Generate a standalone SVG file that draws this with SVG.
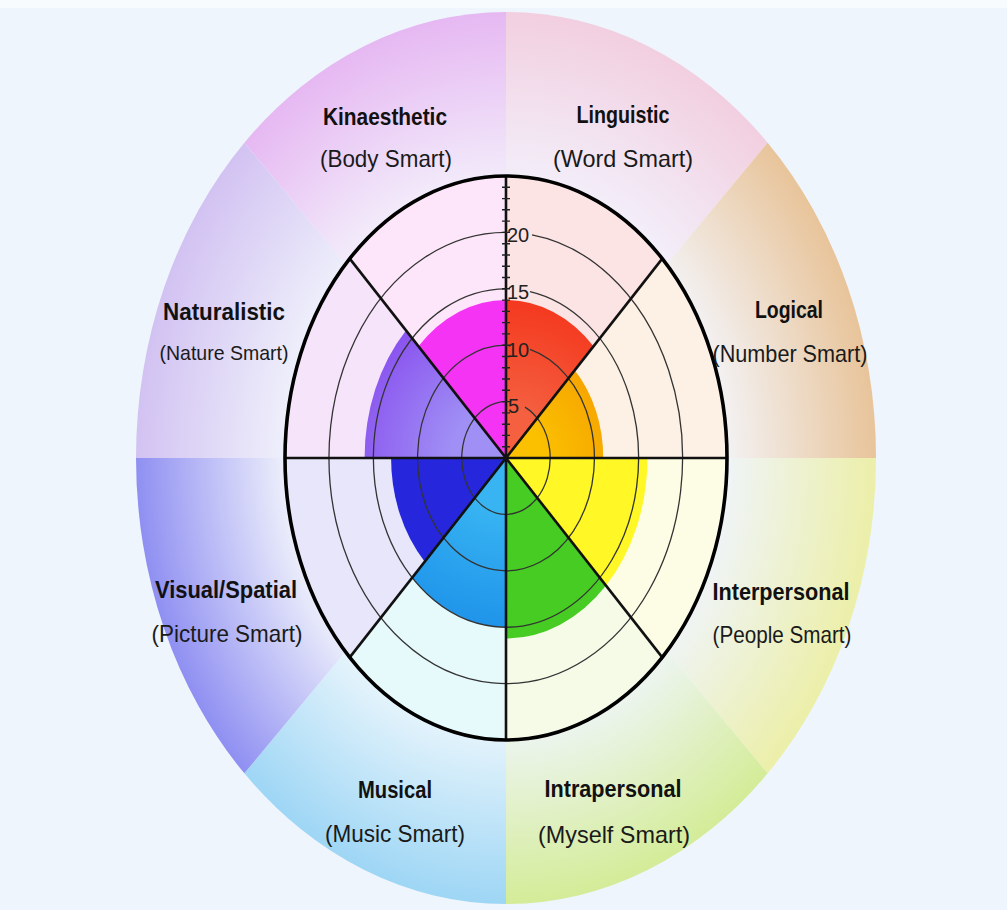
<svg xmlns="http://www.w3.org/2000/svg" width="1007" height="910" viewBox="0 0 1007 910">
<defs>
<style>
.title{font-family:"Comic Sans MS","Liberation Sans",sans-serif;font-weight:bold;font-size:24px;fill:#111;text-anchor:middle}
.sub{font-family:"Comic Sans MS","Liberation Sans",sans-serif;font-size:24px;fill:#1a1a1a;text-anchor:middle}
.num{font-family:"Comic Sans MS","Liberation Sans",sans-serif;font-size:20px;fill:#222}
.ring{fill:none;stroke:#333;stroke-width:1.3}
.div{stroke:#111;stroke-width:2.6;fill:none}
.tick{stroke:#222;stroke-width:1.4}
</style>
<radialGradient id="go1" gradientUnits="userSpaceOnUse" cx="506" cy="458" r="446" gradientTransform="translate(506 458) scale(0.83 1) translate(-506 -458)"><stop offset="0.6" stop-color="#f3eefb"/><stop offset="1" stop-color="#e6b8f2"/></radialGradient>
<radialGradient id="go2" gradientUnits="userSpaceOnUse" cx="506" cy="458" r="446" gradientTransform="translate(506 458) scale(0.83 1) translate(-506 -458)"><stop offset="0.6" stop-color="#f3f0fb"/><stop offset="1" stop-color="#f2cfe0"/></radialGradient>
<radialGradient id="go3" gradientUnits="userSpaceOnUse" cx="506" cy="458" r="446" gradientTransform="translate(506 458) scale(0.83 1) translate(-506 -458)"><stop offset="0.6" stop-color="#f3f1f2"/><stop offset="1" stop-color="#e8c49a"/></radialGradient>
<radialGradient id="go4" gradientUnits="userSpaceOnUse" cx="506" cy="458" r="446" gradientTransform="translate(506 458) scale(0.83 1) translate(-506 -458)"><stop offset="0.6" stop-color="#eff4f6"/><stop offset="1" stop-color="#ecefa8"/></radialGradient>
<radialGradient id="go5" gradientUnits="userSpaceOnUse" cx="506" cy="458" r="446" gradientTransform="translate(506 458) scale(0.83 1) translate(-506 -458)"><stop offset="0.6" stop-color="#eef5f4"/><stop offset="1" stop-color="#d4ec98"/></radialGradient>
<radialGradient id="go6" gradientUnits="userSpaceOnUse" cx="506" cy="458" r="446" gradientTransform="translate(506 458) scale(0.83 1) translate(-506 -458)"><stop offset="0.6" stop-color="#e8f5fc"/><stop offset="1" stop-color="#9ed6f5"/></radialGradient>
<radialGradient id="go7" gradientUnits="userSpaceOnUse" cx="506" cy="458" r="446" gradientTransform="translate(506 458) scale(0.83 1) translate(-506 -458)"><stop offset="0.6" stop-color="#eceefb"/><stop offset="1" stop-color="#8f8ff2"/></radialGradient>
<radialGradient id="go8" gradientUnits="userSpaceOnUse" cx="506" cy="458" r="446" gradientTransform="translate(506 458) scale(0.83 1) translate(-506 -458)"><stop offset="0.6" stop-color="#eeeffb"/><stop offset="1" stop-color="#d2c2f2"/></radialGradient>
<radialGradient id="gpur" gradientUnits="userSpaceOnUse" cx="506" cy="458" r="180"><stop offset="0.3" stop-color="#a090f5"/><stop offset="1" stop-color="#8648ee"/></radialGradient>
<radialGradient id="gred" gradientUnits="userSpaceOnUse" cx="506" cy="458" r="160"><stop offset="0.3" stop-color="#f46040"/><stop offset="1" stop-color="#f4381e"/></radialGradient>
<radialGradient id="gora" gradientUnits="userSpaceOnUse" cx="506" cy="458" r="125"><stop offset="0.3" stop-color="#fbc000"/><stop offset="1" stop-color="#f5a000"/></radialGradient>
<radialGradient id="gblu" gradientUnits="userSpaceOnUse" cx="506" cy="458" r="170"><stop offset="0.3" stop-color="#38b4f2"/><stop offset="1" stop-color="#1f94ea"/></radialGradient>
</defs>
<rect x="0" y="0" width="1007" height="910" fill="#eef5fc"/>
<rect x="0" y="0" width="1007" height="8" fill="#f8fbfd"/>

<g id="outer-ring">
<path d="M506,458 L506,12 A370,446 0 0 0 244.37,142.63 Z" fill="url(#go1)"/>
<path d="M506,458 L506,12 A370,446 0 0 1 767.63,142.63 Z" fill="url(#go2)"/>
<path d="M506,458 L767.63,142.63 A370,446 0 0 1 876,458 Z" fill="url(#go3)"/>
<path d="M506,458 L876,458 A370,446 0 0 1 767.63,773.37 Z" fill="url(#go4)"/>
<path d="M506,458 L767.63,773.37 A370,446 0 0 1 506,904 Z" fill="url(#go5)"/>
<path d="M506,458 L506,904 A370,446 0 0 1 244.37,773.37 Z" fill="url(#go6)"/>
<path d="M506,458 L244.37,773.37 A370,446 0 0 1 136,458 Z" fill="url(#go7)"/>
<path d="M506,458 L136,458 A370,446 0 0 1 244.37,142.63 Z" fill="url(#go8)"/>
</g>

<g id="inner-bg">
<path d="M506,458 L506,176 A221,282 0 0 0 349.73,258.6 Z" fill="#fde6fa"/>
<path d="M506,458 L506,176 A221,282 0 0 1 662.27,258.6 Z" fill="#fde4e4"/>
<path d="M506,458 L662.27,258.6 A221,282 0 0 1 727,458 Z" fill="#fdf1e5"/>
<path d="M506,458 L727,458 A221,282 0 0 1 662.27,657.4 Z" fill="#fdfde6"/>
<path d="M506,458 L662.27,657.4 A221,282 0 0 1 506,740 Z" fill="#f6fbe8"/>
<path d="M506,458 L506,740 A221,282 0 0 1 349.73,657.4 Z" fill="#e6fafc"/>
<path d="M506,458 L349.73,657.4 A221,282 0 0 1 285,458 Z" fill="#e8e6fa"/>
<path d="M506,458 L285,458 A221,282 0 0 1 349.73,258.6 Z" fill="#f6e4fa"/>
</g>

<g id="data">
<path id="kinaesthetic" d="M506,458 L506,300.08 A123.76,157.92 0 0 0 418.49,346.33 Z" fill="#f533f5"/>
<path id="linguistic" d="M506,458 L506,300.08 A123.76,157.92 0 0 1 593.51,346.33 Z" fill="url(#gred)"/>
<path id="logical" d="M506,458 L574.76,370.26 A97.24,124.08 0 0 1 603.24,458 Z" fill="url(#gora)"/>
<path id="interpersonal" d="M506,458 L647.44,458 A141.44,180.48 0 0 1 606.01,585.62 Z" fill="#fff726"/>
<path id="intrapersonal" d="M506,458 L606.01,585.62 A141.44,180.48 0 0 1 506,638.48 Z" fill="#46cc22"/>
<path id="musical" d="M506,458 L506,627.2 A132.6,169.2 0 0 1 412.24,577.64 Z" fill="url(#gblu)"/>
<path id="visual" d="M506,458 L424.74,561.69 A114.92,146.64 0 0 1 391.08,458 Z" fill="#2626dc"/>
<path id="naturalistic" d="M506,458 L364.56,458 A141.44,180.48 0 0 1 405.99,330.38 Z" fill="url(#gpur)"/>
</g>

<g id="grid">
<path class="ring" d="M525,407.1 A44.2,56.4 0 1 1 506,401.6"/>
<path class="ring" d="M530,349.44 A88.4,112.8 0 1 1 506,345.2"/>
<path class="ring" d="M530,291.6 A132.6,169.2 0 1 1 506,288.8"/>
<path class="ring" d="M532,234.9 A176.8,225.6 0 1 1 506,232.4"/>
</g>

<g id="connectors">
<line class="div" x1="285" y1="458" x2="727" y2="458"/>
<line class="div" x1="506" y1="176" x2="506" y2="740"/>
<line class="div" x1="349.73" y1="258.6" x2="662.27" y2="657.4"/>
<line class="div" x1="662.27" y1="258.6" x2="349.73" y2="657.4"/>
<ellipse cx="506" cy="458" rx="221" ry="282" fill="none" stroke="#000" stroke-width="3.6"/>
</g>

<g id="axis">
<path class="tick" d="M502,446.7h8M502,435.4h8M502,424.2h8M502,412.9h8M502,401.6h8M502,390.3h8M502,379h8M502,367.8h8M502,356.5h8M502,345.2h8M502,333.9h8M502,322.6h8M502,311.4h8M502,300.1h8M502,288.8h8M502,277.5h8M502,266.2h8M502,255h8M502,243.7h8M502,232.4h8M502,221.1h8M502,209.8h8M502,198.6h8M502,187.3h8"/>
<text class="num" x="508" y="413">5</text>
<text class="num" x="507" y="357">10</text>
<text class="num" x="507" y="299">15</text>
<text class="num" x="507" y="242">20</text>
</g>

<g id="labels">
<text class="title" x="385" y="125" textLength="124" lengthAdjust="spacingAndGlyphs">Kinaesthetic</text>
<text class="sub" x="386" y="167" textLength="132" lengthAdjust="spacingAndGlyphs">(Body Smart)</text>
<text class="title" x="623" y="123" textLength="93" lengthAdjust="spacingAndGlyphs">Linguistic</text>
<text class="sub" x="623" y="167" textLength="140" lengthAdjust="spacingAndGlyphs">(Word Smart)</text>
<text class="title" x="224" y="320" textLength="122" lengthAdjust="spacingAndGlyphs">Naturalistic</text>
<text class="sub" x="224" y="360" style="font-size:21px" textLength="129" lengthAdjust="spacingAndGlyphs">(Nature Smart)</text>
<text class="title" x="789" y="318" textLength="68" lengthAdjust="spacingAndGlyphs">Logical</text>
<text class="sub" x="790" y="362" textLength="155" lengthAdjust="spacingAndGlyphs">(Number Smart)</text>
<text class="title" x="226" y="598" textLength="142" lengthAdjust="spacingAndGlyphs">Visual/Spatial</text>
<text class="sub" x="227" y="642" textLength="151" lengthAdjust="spacingAndGlyphs">(Picture Smart)</text>
<text class="title" x="781" y="600" textLength="137" lengthAdjust="spacingAndGlyphs">Interpersonal</text>
<text class="sub" x="782" y="643" textLength="139" lengthAdjust="spacingAndGlyphs">(People Smart)</text>
<text class="title" x="395" y="798" textLength="74" lengthAdjust="spacingAndGlyphs">Musical</text>
<text class="sub" x="395" y="842" textLength="140" lengthAdjust="spacingAndGlyphs">(Music Smart)</text>
<text class="title" x="613" y="797" textLength="137" lengthAdjust="spacingAndGlyphs">Intrapersonal</text>
<text class="sub" x="614" y="843" textLength="152" lengthAdjust="spacingAndGlyphs">(Myself Smart)</text>
</g>
</svg>
